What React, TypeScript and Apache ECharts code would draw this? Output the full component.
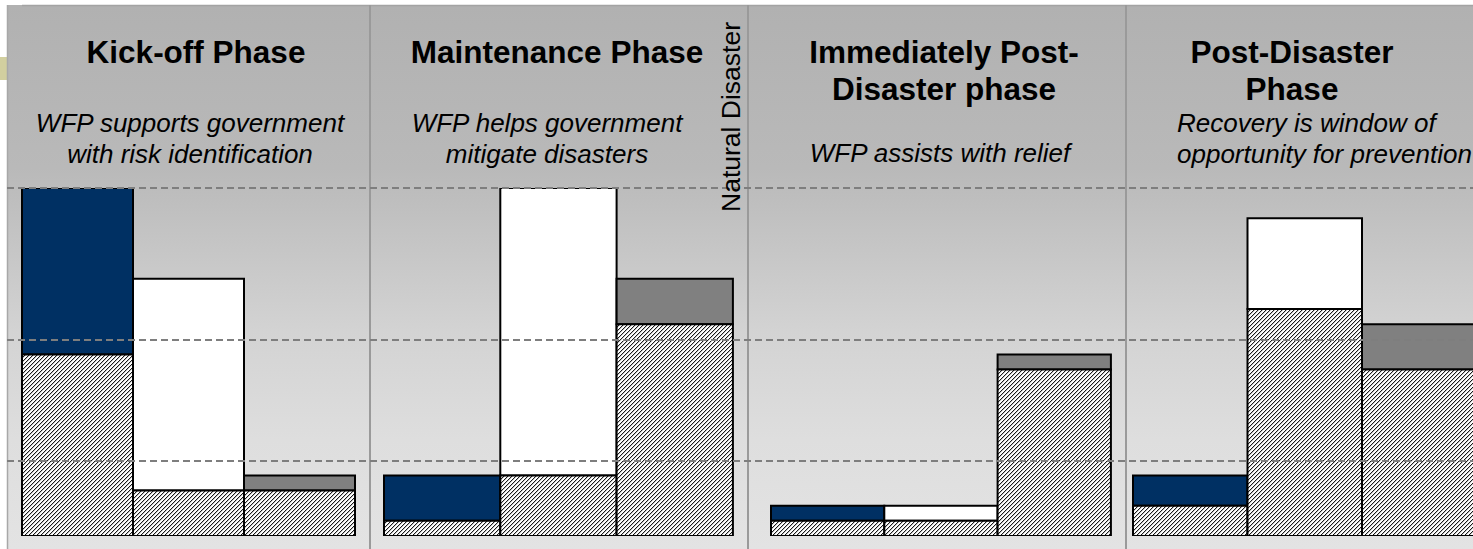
import React, { useEffect, useRef } from "react";
import * as echarts from "echarts";

// ---------- content ----------
const phaseTitles: string[][] = [
  ["Kick-off Phase"],
  ["Maintenance Phase"],
  ["Immediately Post-", "Disaster phase"],
  ["Post-Disaster", "Phase"],
];
const phaseSubtitles: string[][] = [
  ["WFP supports government", "with risk identification"],
  ["WFP helps government", "mitigate disasters"],
  ["WFP assists with relief"],
  ["Recovery is window of", "opportunity for prevention"],
];
const eventLabel = "Natural Disaster";

// ---------- values (per phase) ----------
const navyBase = [12, 1, 1, 2];
const navyTotal = [23, 4, 2, 4];
const whiteBase = [3, 4, 1, 15];
const whiteTotal = [17, 23, 2, 21];
const grayBase = [3, 14, 11, 11];
const grayTotal = [4, 17, 12, 14];
const guideLevels = [5, 13, 23];

// ---------- layout / style ----------
const W = 1473;
const H = 549;
const FRAME_LEFT = 7;
const FRAME_TOP = 5;
const BASE_Y = 536;
const TOP_Y = 188;
const Y_MAX = 23;
const phaseStart = [22, 384, 771, 1133];
const phaseBarW = [111, 116.3, 113.3, 114.5];
const separatorsX = [370, 748, 1126];
const titleCx = [196, 557, 944, 1292];
const subCx = [190, 547, 940, 1177];
const subAlign = ["center", "center", "center", "left"];
const barColors = ["#003063", "#ffffff", "#808080"];
const FONT = "'Liberation Sans', Arial, Helvetica, sans-serif";

function makeHatch(): string {
  const c = document.createElement("canvas");
  c.width = 4;
  c.height = 4;
  const ctx = c.getContext("2d")!;
  ctx.fillStyle = "#ffffff";
  ctx.fillRect(0, 0, 4, 4);
  for (let i = 0; i < 4; i++) {
    ctx.fillStyle = "#1a1a1a";
    ctx.fillRect(3 - i, i, 1, 1);
    ctx.fillStyle = "#c4c4c4";
    ctx.fillRect((4 - i) % 4, i, 1, 1);
  }
  return c.toDataURL();
}

export default function App() {
  const ref = useRef<HTMLDivElement>(null);
  useEffect(() => {
    if (!ref.current) return;
    const chart = echarts.init(ref.current, undefined, { renderer: "svg" });
    const hatch = {
      image: makeHatch(),
      repeat: "repeat",
      imageWidth: 4,
      imageHeight: 4,
    };

    const bases = [navyBase, whiteBase, grayBase];
    const totals = [navyTotal, whiteTotal, grayTotal];
    const behind: number[][] = [];
    const front: number[][] = [];
    for (let p = 0; p < 4; p++) {
      for (let b = 0; b < 3; b++) {
        const x0 = phaseStart[p] + b * phaseBarW[p];
        const x1 = x0 + phaseBarW[p];
        const item = [x0, x1, bases[b][p], totals[b][p], b];
        if (p === 0 && b === 0) behind.push(item);
        else front.push(item);
      }
    }

    const renderItem = (params: any, api: any) => {
      const x0 = api.value(0);
      const x1 = api.value(1);
      const base = api.value(2);
      const total = api.value(3);
      const ci = api.value(4);
      const pZero = api.coord([x0, 0]);
      const pBase = api.coord([x1, base]);
      const pTop = api.coord([x0, total]);
      const left = pZero[0];
      const width = pBase[0] - pZero[0];
      return {
        type: "group",
        children: [
          {
            type: "rect",
            shape: { x: left, y: pTop[1], width, height: pBase[1] - pTop[1] },
            style: { fill: barColors[ci], stroke: "#000", lineWidth: 2 },
          },
          {
            type: "rect",
            shape: { x: left, y: pBase[1], width, height: pZero[1] - pBase[1] },
            style: { fill: hatch, stroke: "#000", lineWidth: 2 },
          },
        ],
      };
    };

    const graphics: any[] = [];
    graphics.push({
      type: "rect",
      z: -100,
      shape: { x: FRAME_LEFT, y: FRAME_TOP, width: W - FRAME_LEFT, height: H - FRAME_TOP },
      style: {
        fill: new echarts.graphic.LinearGradient(0, 0, 0, 1, [
          { offset: 0, color: "#b1b1b1" },
          { offset: 0.3, color: "#b9b9b9" },
          { offset: 0.6, color: "#d3d3d3" },
          { offset: 0.8, color: "#dedede" },
          { offset: 1, color: "#e3e3e3" },
        ]),
      },
    });
    graphics.push({
      type: "rect",
      z: -90,
      shape: { x: 0, y: 57, width: FRAME_LEFT, height: 23 },
      style: { fill: "#d2cf9f" },
    });
    graphics.push({
      type: "line",
      z: -80,
      shape: { x1: 22, y1: FRAME_TOP + 0.5, x2: W, y2: FRAME_TOP + 0.5 },
      style: { stroke: "#a3a3a3", lineWidth: 1.5 },
    });
    graphics.push({
      type: "line",
      z: -80,
      shape: { x1: FRAME_LEFT + 0.5, y1: FRAME_TOP, x2: FRAME_LEFT + 0.5, y2: H },
      style: { stroke: "#a8a8a8", lineWidth: 1.5 },
    });
    separatorsX.forEach((sx) => {
      graphics.push({
        type: "line",
        z: -80,
        shape: { x1: sx, y1: FRAME_TOP, x2: sx, y2: H },
        style: { stroke: "#9a9a9a", lineWidth: 2 },
      });
    });
    phaseTitles.forEach((lines, p) => {
      lines.forEach((t, i) => {
        graphics.push({
          type: "text",
          z: 100,
          x: titleCx[p],
          y: 52 + i * 37,
          style: {
            text: t,
            fontFamily: FONT,
            fontSize: 31.5,
            fontWeight: "bold",
            fill: "#000",
            align: "center",
            verticalAlign: "middle",
          },
        });
      });
    });
    phaseSubtitles.forEach((lines, p) => {
      const single = lines.length === 1;
      lines.forEach((t, i) => {
        graphics.push({
          type: "text",
          z: 100,
          x: subCx[p],
          y: single ? 153 : 122.5 + i * 31.5,
          style: {
            text: t,
            fontFamily: FONT,
            fontSize: 26,
            fontStyle: "italic",
            fill: "#000",
            align: subAlign[p],
            verticalAlign: "middle",
          },
        });
      });
    });
    graphics.push({
      type: "text",
      z: 100,
      x: 730.5,
      y: 117,
      rotation: Math.PI / 2,
      style: {
        text: eventLabel,
        fontFamily: FONT,
        fontSize: 26.5,
        fill: "#000",
        align: "center",
        verticalAlign: "middle",
      },
    });

    chart.setOption({
      animation: false,
      grid: {
        left: FRAME_LEFT,
        right: 0,
        top: TOP_Y,
        bottom: H - BASE_Y,
        containLabel: false,
      },
      xAxis: {
        type: "value",
        min: FRAME_LEFT,
        max: W,
        show: false,
      },
      yAxis: {
        type: "value",
        min: 0,
        max: Y_MAX,
        show: false,
        splitLine: { show: false },
      },
      graphic: graphics,
      series: [
        {
          type: "custom",
          z: 1,
          clip: true,
          renderItem,
          encode: { x: [0, 1], y: [2, 3] },
          data: behind,
          silent: true,
        },
        {
          type: "line",
          z: 2,
          data: [],
          silent: true,
          markLine: {
            silent: true,
            symbol: "none",
            label: { show: false },
            lineStyle: { color: "#7e7e7e", width: 2, type: [7, 4] },
            data: guideLevels.map((v) => ({ yAxis: v })),
          },
        },
        {
          type: "custom",
          z: 3,
          clip: true,
          renderItem,
          encode: { x: [0, 1], y: [2, 3] },
          data: front,
          silent: true,
        },
      ],
    });
    return () => chart.dispose();
  }, []);
  return (
    <div
      ref={ref}
      style={{ position: "fixed", left: 0, top: 0, width: W, height: H, background: "#fff" }}
    />
  );
}
